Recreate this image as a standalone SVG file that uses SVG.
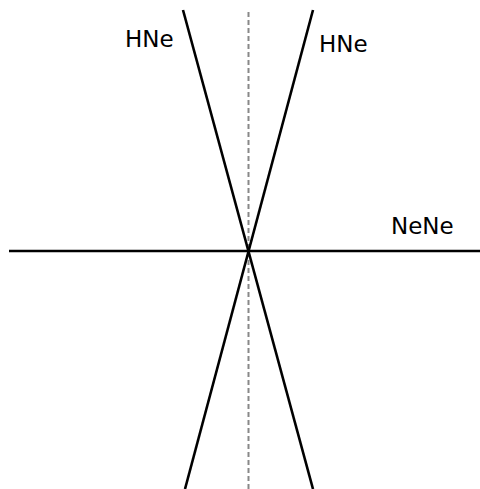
<svg xmlns="http://www.w3.org/2000/svg" width="480" height="489" viewBox="0 0 480 489">
<style>
.ln{stroke:#000;stroke-width:2.6;fill:none}
.dash{stroke:#888;stroke-width:2;stroke-dasharray:5,3;fill:none}
.lbl{font-family:"DejaVu Sans",sans-serif;font-size:23px;fill:#000}
</style>
<rect width="480" height="489" fill="#fff"/>
<g id="connectors">
<line class="dash" x1="248.5" y1="12" x2="248.5" y2="489"/>
<line class="ln" x1="9" y1="251" x2="480" y2="251"/>
<line class="ln" x1="183" y1="10" x2="313" y2="489"/>
<line class="ln" x1="313" y1="10" x2="185" y2="489"/>
</g>
<g id="label-hne-left"><text class="lbl" x="125" y="47">HNe</text></g>
<g id="label-hne-right"><text class="lbl" x="319" y="52">HNe</text></g>
<g id="label-nene"><text class="lbl" x="391" y="234">NeNe</text></g>
</svg>
